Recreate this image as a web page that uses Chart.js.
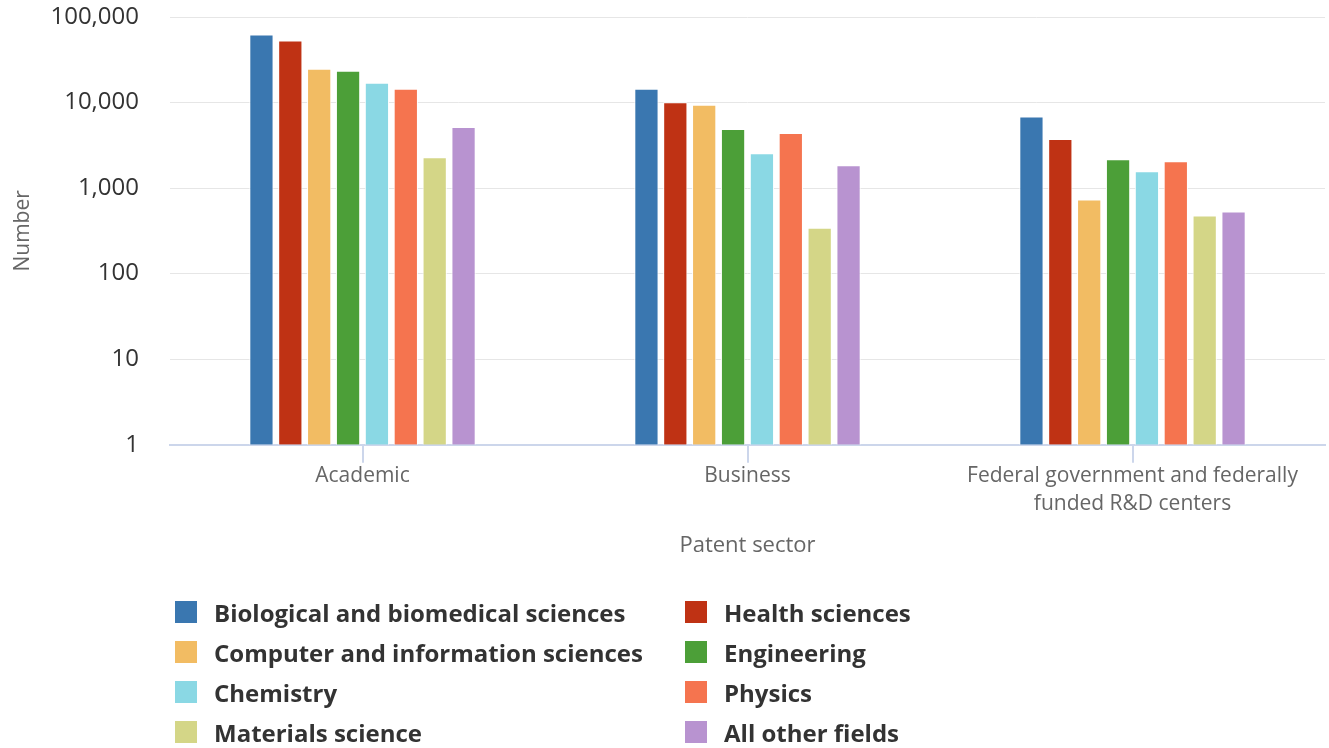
<!DOCTYPE html>
<html>
<head>
<meta charset="utf-8">
<script src="https://cdn.jsdelivr.net/npm/chart.js@4/dist/chart.umd.min.js"></script>
<style>
  html, body { margin: 0; padding: 0; background: #fff; }
  #wrap { position: relative; width: 1329px; height: 748px; }
  #legend { position: absolute; left: 175px; top: 601px; width: 1100px;
    display: grid; grid-template-columns: 510px 450px; row-gap: 18px;
    font-family: "Open Sans", sans-serif; font-weight: 700; font-size: 24px; color: #333; }
  .item { display: flex; align-items: center; height: 22px; white-space: nowrap; }
  .box { width: 22px; height: 22px; margin-right: 17px; flex: none; }
</style>
</head>
<body>
<div id="wrap">
  <canvas id="c" width="1329" height="748"></canvas>
  <div id="legend"></div>
</div>
<script>
const categories = ["Academic", "Business", ["Federal government and federally", "funded R&D centers"]];
const seriesNames = ["Biological and biomedical sciences", "Health sciences", "Computer and information sciences", "Engineering", "Chemistry", "Physics", "Materials science", "All other fields"];
const seriesColors = ["#3a77b0", "#bf3214", "#f2bc63", "#4c9f38", "#8ad8e4", "#f5744f", "#d4d687", "#b893d0"];
const biological = [62500, 14500, 6870];
const health = [53200, 10100, 3740];
const computer = [24900, 9400, 736];
const engineering = [23500, 4900, 2180];
const chemistry = [17000, 2560, 1575];
const physics = [14500, 4400, 2060];
const materials = [2300, 345, 478];
const otherFields = [5170, 1850, 532];
const tickValues = [1, 10, 100, 1000, 10000, 100000];
const tickLabels = ["1", "10", "100", "1,000", "10,000", "100,000"];

const seriesData = [biological, health, computer, engineering, chemistry, physics, materials, otherFields];

const datasets = seriesNames.map((name, i) => ({
  label: name,
  data: seriesData[i],
  backgroundColor: seriesColors[i],
  borderColor: "#ffffff",
  borderWidth: 1,
  categoryPercentage: 0.6,
  barPercentage: 0.84
}));

const chart = new Chart(document.getElementById("c"), {
  type: "bar",
  data: { labels: categories, datasets },
  options: {
    responsive: false,
    animation: false,
    layout: { padding: { left: 0, right: 4, top: 17, bottom: 189 } },
    plugins: { legend: { display: false }, tooltip: { enabled: false } },
    scales: {
      x: {
        grid: { display: true, drawOnChartArea: false, offset: false, color: "#ccd6eb", lineWidth: 2, tickLength: 18 },
        border: { display: true, color: "#ccd6eb", width: 2 },
        ticks: { color: "#666666", font: { family: "Open Sans", size: 21, lineHeight: 1.33 }, padding: -1, maxRotation: 0, autoSkip: false },
        title: { display: true, text: "Patent sector", color: "#666666", font: { family: "Open Sans", size: 22 }, padding: { top: 16, bottom: 0 } }
      },
      y: {
        type: "logarithmic",
        min: 1,
        max: 100000,
        afterBuildTicks: (scale) => { scale.ticks = tickValues.map(v => ({ value: v })); },
        afterFit: (scale) => { scale.width = 170; scale.paddingTop = 0; scale.paddingBottom = 0; },
        grid: { color: "#e6e6e6", lineWidth: 1, drawTicks: false },
        border: { display: false },
        ticks: {
          color: "#333333",
          font: { family: "Open Sans", size: 24 },
          padding: 31,
          callback: (v) => { const k = tickValues.indexOf(v); return k >= 0 ? tickLabels[k] : ""; }
        },
        title: { display: true, text: "Number", color: "#666666", font: { family: "Open Sans", size: 21 }, padding: { top: 10, bottom: 0 } }
      }
    }
  }
});

const legend = document.getElementById("legend");
chart.data.datasets.forEach(ds => {
  const it = document.createElement("div");
  it.className = "item";
  const b = document.createElement("span");
  b.className = "box";
  b.style.background = ds.backgroundColor;
  const t = document.createElement("span");
  t.textContent = ds.label;
  it.appendChild(b); it.appendChild(t);
  legend.appendChild(it);
});
</script>
</body>
</html>
